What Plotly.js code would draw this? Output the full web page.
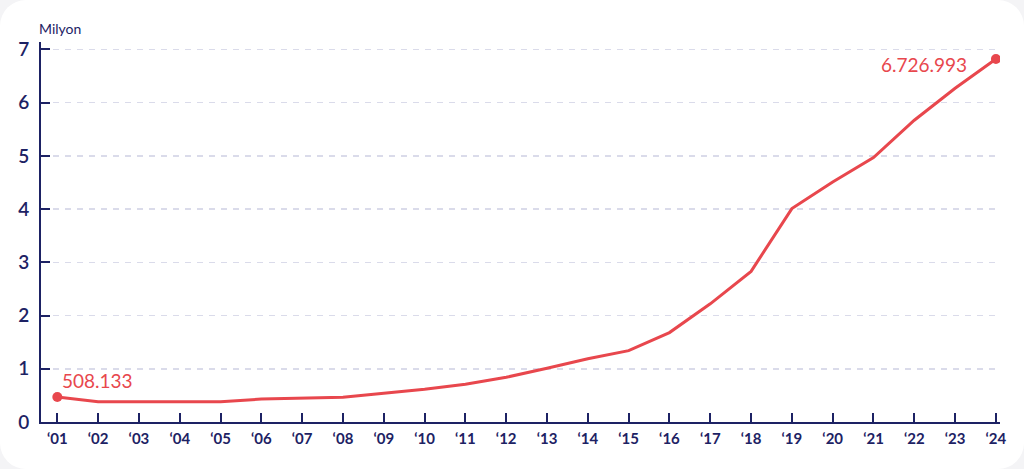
<!DOCTYPE html>
<html>
<head>
<meta charset="utf-8">
<script src="https://cdn.plot.ly/plotly-3.0.1.min.js"></script>
<style>
  html, body { margin: 0; padding: 0; background: #f4f4f6; }
  #card { position: absolute; left: 0; top: 0; width: 1024px; height: 469px; background: #ffffff; border-radius: 26px; overflow: hidden; }
  #chart { width: 1024px; height: 469px; }
</style>
</head>
<body>
<div id="card"><div id="chart"></div></div>
<script>
// Years (x) and values in millions (y)
const years = [2001, 2002, 2003, 2004, 2005, 2006, 2007, 2008, 2009, 2010, 2011, 2012,
               2013, 2014, 2015, 2016, 2017, 2018, 2019, 2020, 2021, 2022, 2023, 2024];
const values = [0.47, 0.38, 0.38, 0.38, 0.38, 0.43, 0.45, 0.465, 0.54, 0.615, 0.71, 0.84,
                1.01, 1.19, 1.34, 1.68, 2.22, 2.83, 4.01, 4.51, 4.97, 5.67, 6.27, 6.82];
const tickLabels = ['‘01','‘02','‘03','‘04','‘05','‘06','‘07','‘08','‘09','‘10','‘11','‘12',
                    '‘13','‘14','‘15','‘16','‘17','‘18','‘19','‘20','‘21','‘22','‘23','‘24'];
const yTicks = [0, 1, 2, 3, 4, 5, 6, 7];
const firstLabel = '508.133';
const lastLabel = '6.726.993';
const yUnit = 'Milyon';

const red = '#e8474d';
const navy = '#1d2264';

const line = {
  x: years, y: values, type: 'scatter', mode: 'lines',
  line: { color: red, width: 3 }, hoverinfo: 'skip', showlegend: false
};
const ends = {
  x: [years[0], years[years.length - 1]],
  y: [values[0], values[values.length - 1]],
  type: 'scatter', mode: 'markers',
  marker: { color: red, size: 10 }, hoverinfo: 'skip', showlegend: false
};

const layout = {
  width: 1024, height: 469,
  paper_bgcolor: 'rgba(0,0,0,0)', plot_bgcolor: 'rgba(0,0,0,0)',
  margin: { l: 41, r: 24, t: 42, b: 47 },
  font: { family: 'Lato, "Open Sans", sans-serif', color: navy },
  xaxis: {
    range: [2000.6, 2024.1],
    tickvals: years, ticktext: tickLabels,
    ticks: 'inside', ticklen: 9, tickwidth: 2, tickcolor: navy,
    showline: true, linecolor: navy, linewidth: 2,
    showgrid: false, zeroline: false,
    tickfont: { size: 15, color: navy, weight: 700 },
    ticklabelstandoff: 2
  },
  yaxis: {
    range: [0, 7.14],
    tickvals: yTicks, ticktext: yTicks.map(String),
    ticks: 'inside', ticklen: 9, tickwidth: 2, tickcolor: navy,
    showline: true, linecolor: navy, linewidth: 2,
    showgrid: true, gridcolor: '#dadbea', gridwidth: 1.5, griddash: '6px,6px',
    zeroline: false,
    tickfont: { size: 19, color: navy, weight: 600 },
    ticklabelstandoff: 6
  },
  annotations: [
    { xref: 'paper', yref: 'paper', x: 0.0, y: 1.0, xanchor: 'left', yanchor: 'bottom',
      xshift: -4, yshift: 3, text: yUnit, showarrow: false,
      font: { size: 14, color: navy } },
    { x: years[0], y: values[0], xref: 'x', yref: 'y', text: firstLabel, showarrow: false,
      xanchor: 'left', yanchor: 'bottom', xshift: 3, yshift: 3,
      font: { size: 19, color: red } },
    { x: years[years.length - 1], y: values[values.length - 1], xref: 'x', yref: 'y',
      text: lastLabel, showarrow: false,
      xanchor: 'right', yanchor: 'middle', xshift: -27, yshift: -5,
      font: { size: 19, color: red } }
  ]
};

Plotly.newPlot('chart', [line, ends], layout, { displayModeBar: false, staticPlot: true });
</script>
</body>
</html>
